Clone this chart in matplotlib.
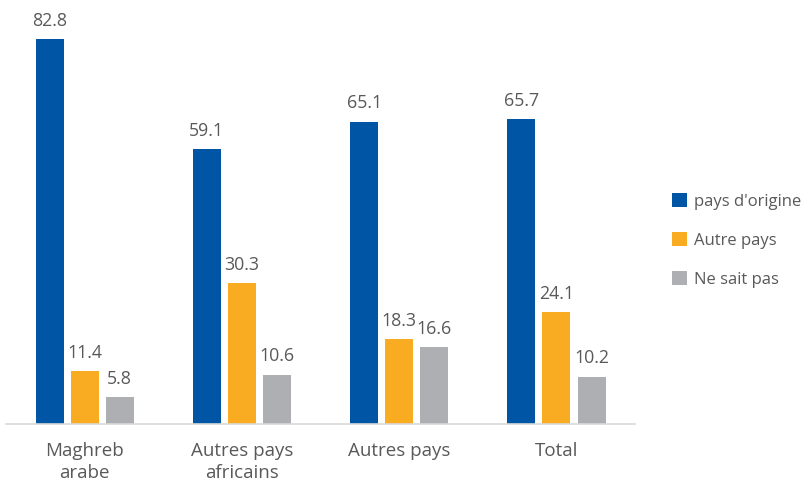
import matplotlib.pyplot as plt
import numpy as np
from matplotlib.patches import Patch

categories = ["Maghreb\narabe", "Autres pays\nafricains", "Autres pays", "Total"]
series_names = ["pays d'origine", "Autre pays", "Ne sait pas"]
pays_origine = [82.8, 59.1, 65.1, 65.7]
autre_pays = [11.4, 30.3, 18.3, 24.1]
ne_sait_pas = [5.8, 10.6, 16.6, 10.2]

colors = ["#0055A4", "#F9AB22", "#AEAFB2"]
text_color = "#595959"
plt.rcParams['font.family'] = ['Open Sans', 'DejaVu Sans']

fig = plt.figure(figsize=(8.06, 4.83), dpi=100)
ax = fig.add_axes([0.0074, 0.1222, 0.7806, 0.8654])

x = np.arange(len(categories))
width = 0.178
step = 0.223
values = [pays_origine, autre_pays, ne_sait_pas]
for i, (vals, col) in enumerate(zip(values, colors)):
    pos = x + (i - 1) * step
    bars = ax.bar(pos, vals, width, color=col)
    for b, v in zip(bars, vals):
        ax.text(b.get_x() + b.get_width() / 2, v + 2.0, f"{v:.1f}",
                ha='center', va='bottom', fontsize=12.8, color=text_color)

ax.set_xlim(-0.5, len(categories) - 0.5)
ax.set_ylim(0, 90)
ax.set_yticks([])
ax.set_xticks(x)
ax.set_xticklabels(categories, fontsize=13.5, color=text_color, linespacing=1.25)
ax.tick_params(axis='x', length=0, pad=13)
for s in ['top', 'right', 'left']:
    ax.spines[s].set_visible(False)
ax.spines['bottom'].set_color('#D9D9D9')
ax.spines['bottom'].set_linewidth(1.2)

handles = [Patch(facecolor=c, edgecolor='none') for c in colors]
leg = fig.legend(handles, series_names, loc='center left',
                 bbox_to_anchor=(0.815, 0.502), frameon=False,
                 fontsize=12.0, handlelength=0.9, handleheight=0.9,
                 handletextpad=0.4, labelspacing=1.35)
for t in leg.get_texts():
    t.set_color(text_color)

fig.savefig("out.png", dpi=100)
